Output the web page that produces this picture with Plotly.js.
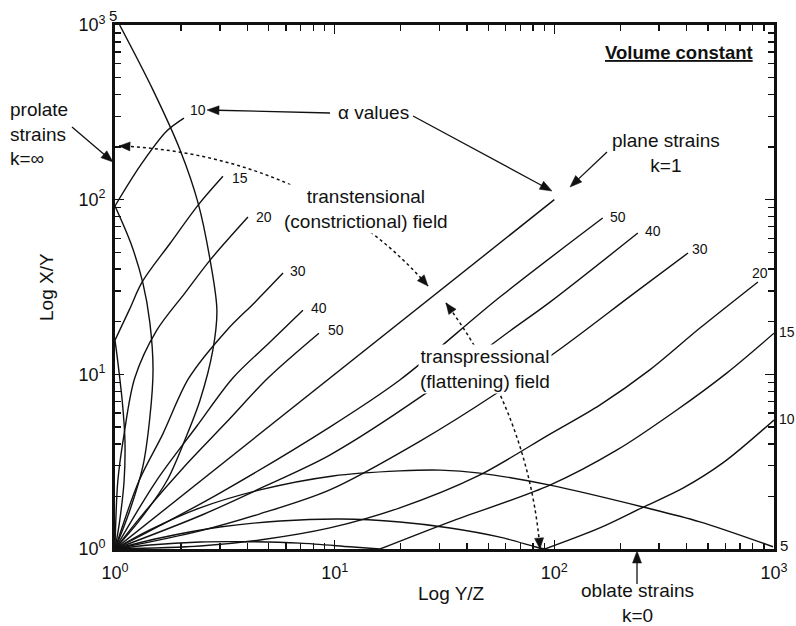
<!DOCTYPE html>
<html><head><meta charset="utf-8">
<script src="https://cdn.plot.ly/plotly-3.0.1.min.js"></script>
<style>html,body{margin:0;padding:0;background:#fff}#chart{width:796px;height:626px}</style>
</head><body><div id="chart"></div>
<script>
// ---------- DATA ----------
// Axis ticks
const tickVals = [1, 10, 100, 1000];
const tickText = ['10<sup>0</sup>', '10<sup>1</sup>', '10<sup>2</sup>', '10<sup>3</sup>'];
const minorTickVals = [2, 3, 4, 5, 6, 7, 8, 9, 20, 30, 40, 50, 60, 70, 80, 90,
                       200, 300, 400, 500, 600, 700, 800, 900];

// Plane strain line (k = 1)
const psX = [1, 10, 100];
const psY = [1, 10, 100];

// Transpression paths (flattening field), alpha values
const p50X = [1, 1.6, 3.0, 9.5, 19.8, 56.5, 166];
const p50Y = [1, 1.36, 2.09, 4.99, 9.28, 27.7, 78.5];
const p40X = [1, 2.44, 5.08, 9.5, 24.5, 62.8, 95.5, 240];
const p40Y = [1, 1.55, 2.36, 3.45, 7.4, 17.7, 25.9, 64.4];
const p30X = [1, 2.44, 4.57, 9.5, 24.5, 54.8, 109, 228, 406];
const p30Y = [1, 1.27, 1.59, 2.18, 4.15, 7.82, 14.3, 28.8, 49.5];
const p20X = [1, 2.44, 4.57, 9.5, 19.8, 44.9, 95.5, 161, 272, 460, 845];
const p20Y = [1, 1.04, 1.126, 1.32, 1.72, 2.62, 4.55, 6.67, 10.6, 18.4, 33.8];
const p15HumpX = [1, 1.44, 2.44, 4.12, 6.95, 11.7, 16.1];
const p15HumpY = [1, 1.054, 1.097, 1.10, 1.08, 1.03, 1];
const p15RiseX = [16.1, 33.5, 95.5, 193, 361, 611, 1000];
const p15RiseY = [1, 1.43, 2.32, 3.69, 6.25, 10.2, 17.2];
const p10HumpX = [1, 1.6, 3.0, 5.64, 10.6, 19.8, 33.5, 56.5, 84, 90.6];
const p10HumpY = [1, 1.156, 1.336, 1.446, 1.485, 1.428, 1.32, 1.17, 1.02, 1];
const p10RiseX = [90.6, 161, 250, 385, 585, 1000];
const p10RiseY = [1, 1.32, 1.72, 2.23, 3.11, 5.48];
const p5X = [1, 1.44, 2.44, 4.57, 9.83, 19.8, 30.2, 45.8, 95.5, 253, 460, 990];
const p5Y = [1, 1.285, 1.72, 2.18, 2.62, 2.80, 2.83, 2.72, 2.32, 1.74, 1.43, 1.03];

// Transtension paths (constrictional field), alpha values
const t5X = [1, 1.285, 1.72, 2.08, 2.44, 2.79, 2.91, 2.71, 2.39, 1.98, 1.49, 1.05];
const t5Y = [1, 1.445, 2.45, 4.21, 7.13, 13.8, 23.3, 45.1, 95.6, 192, 424, 1000];
const t10HumpX = [1, 1.156, 1.34, 1.44, 1.49, 1.44, 1.34, 1.18, 1.0];
const t10HumpY = [1, 1.60, 2.98, 5.62, 10.6, 19.9, 33.3, 56.4, 92];
const t10RiseX = [1.0, 1.31, 1.72, 2.06];
const t10RiseY = [92, 158, 247, 293];
const t15HumpX = [1, 1.05, 1.10, 1.11, 1.08, 1.03, 1.0];
const t15HumpY = [1, 1.445, 2.45, 4.15, 6.94, 11.8, 15.7];
const t15RiseX = [1.0, 1.16, 1.33, 1.78, 2.39, 3.10];
const t15RiseY = [15.7, 23.3, 33.8, 56.1, 93.1, 136];
const t20X = [1, 1.03, 1.10, 1.23, 1.55, 2.08, 2.71, 4.03];
const t20Y = [1, 2.45, 4.55, 9.53, 17.9, 29.2, 45.1, 79.5];
const t30X = [1, 1.285, 1.65, 2.17, 3.23, 4.34, 5.82];
const t30Y = [1, 2.45, 4.55, 9.53, 17.9, 25.9, 38.0];
const t40X = [1, 1.54, 2.36, 3.44, 5.08, 7.17];
const t40Y = [1, 2.45, 5.06, 9.53, 15.3, 23.3];
const t50X = [1, 1.355, 2.08, 3.23, 4.97, 8.48];
const t50Y = [1, 1.61, 2.99, 5.35, 9.53, 17.2];

// ---------- LAYOUT HELPERS ----------
const W = 796, H = 626, ML = 115, MR = 22, MT = 25, MB = 77;
const PW = W - ML - MR, PH = H - MT - MB;
const FONT = 'Liberation Sans, Arial, Helvetica, sans-serif';
const BLACK = '#111';
const px = v => (v - ML) / PW;
const py = v => (H - MB - v) / PH;

function curve(x, y, smooth) {
  return {x: x, y: y, mode: 'lines', hoverinfo: 'skip', showlegend: false,
    line: smooth ? {color: BLACK, width: 1.4, shape: 'spline', smoothing: 0.9}
                 : {color: BLACK, width: 1.4}};
}
const traces = [
  curve(psX, psY, false),
  curve(p50X, p50Y, true), curve(p40X, p40Y, true), curve(p30X, p30Y, true),
  curve(p20X, p20Y, true), curve(p15HumpX, p15HumpY, true), curve(p15RiseX, p15RiseY, true),
  curve(p10HumpX, p10HumpY, true), curve(p10RiseX, p10RiseY, true), curve(p5X, p5Y, true),
  curve(t5X, t5Y, true), curve(t10HumpX, t10HumpY, true), curve(t10RiseX, t10RiseY, true),
  curve(t15HumpX, t15HumpY, true), curve(t15RiseX, t15RiseY, true),
  curve(t20X, t20Y, true), curve(t30X, t30Y, true), curve(t40X, t40Y, true), curve(t50X, t50Y, true),
  // invisible carrier so the minor-tick overlay axes are drawn
  {x: [tickVals[0]], y: [tickVals[0]], xaxis: 'x2', yaxis: 'y2', mode: 'markers',
   marker: {opacity: 0, size: 1}, hoverinfo: 'skip', showlegend: false}
];

// shapes: arrows drawn in pixel space converted to paper
const shapes = [];
function head(tx, ty, fx, fy, len, hw) {
  const dx = tx - fx, dy = ty - fy, d = Math.hypot(dx, dy);
  const ux = dx / d, uy = dy / d;
  const bx = tx - ux * len, by = ty - uy * len;
  const p1 = [bx - uy * hw, by + ux * hw], p2 = [bx + uy * hw, by - ux * hw];
  shapes.push({type: 'path', xref: 'paper', yref: 'paper', layer: 'above',
    path: `M${px(tx)},${py(ty)} L${px(p1[0])},${py(p1[1])} L${px(p2[0])},${py(p2[1])} Z`,
    fillcolor: BLACK, line: {color: BLACK, width: 0.5}});
  return [bx + ux * 2, by + uy * 2];
}
function arrow(fx, fy, tx, ty) {
  const b = head(tx, ty, fx, fy, 12, 4.5);
  shapes.push({type: 'line', xref: 'paper', yref: 'paper', layer: 'above',
    x0: px(fx), y0: py(fy), x1: px(b[0]), y1: py(b[1]), line: {color: BLACK, width: 1.3}});
}
function dotted(p0, c1, c2, p3) {
  shapes.push({type: 'path', xref: 'paper', yref: 'paper', layer: 'above',
    path: `M${px(p0[0])},${py(p0[1])} C${px(c1[0])},${py(c1[1])} ${px(c2[0])},${py(c2[1])} ${px(p3[0])},${py(p3[1])}`,
    line: {color: BLACK, width: 1.5, dash: 'dot'}});
  head(p0[0], p0[1], c1[0], c1[1], 11, 4.5);
  head(p3[0], p3[1], c2[0], c2[1], 11, 4.5);
}
arrow(330, 113, 207, 110);   // alpha values -> 10
arrow(413, 116, 552, 191);   // alpha values -> right
arrow(607, 152, 570, 187);   // plane strains
arrow(72, 127, 113, 162);    // prolate strains
arrow(637, 584, 637, 551);   // oblate strains
dotted([119, 146], [220, 150], [340, 185], [428, 286]);
dotted([446, 303], [480, 350], [530, 430], [540, 549]);

// text annotations
const ann = [];
function txt(text, x, y, opts) {
  ann.push(Object.assign({text: text, xref: 'paper', yref: 'paper', x: px(x), y: py(y),
    xanchor: 'center', yanchor: 'middle', showarrow: false,
    font: {family: FONT, size: 19, color: BLACK}}, opts || {}));
}
txt('Log X/Y', 46, 287, {textangle: -90});
txt('Log Y/Z', 451, 593);
txt('<b><u>Volume constant</u></b>', 679, 52, {font: {family: FONT, size: 18.5, color: BLACK}});
txt('α values', 373, 113);
txt('plane strains<br>k=1', 666, 153);
txt('prolate<br>strains<br>k=∞', 8, 134, {xanchor: 'left', align: 'left'});
txt('transtensional<br>(constrictional) field', 366, 209, {bgcolor: 'white'});
txt('transpressional<br>(flattening) field', 485, 369, {bgcolor: 'white'});
txt('oblate strains<br>k=0', 637, 603);

// alpha labels at curve ends
function lab(text, xs, ys, xa, xshift, yshift, size) {
  ann.push({text: text, xref: 'x', yref: 'y',
    x: Math.log10(xs[xs.length - 1]), y: Math.log10(ys[ys.length - 1]),
    xanchor: xa, yanchor: 'middle', xshift: xshift, yshift: yshift, showarrow: false,
    font: {family: FONT, size: size || 14, color: BLACK}});
}
lab('50', p50X, p50Y, 'left', 5, 1);
lab('40', p40X, p40Y, 'left', 5, 2);
lab('30', p30X, p30Y, 'left', 2, 4);
lab('20', p20X, p20Y, 'center', 2, 9);
lab('15', p15RiseX, p15RiseY, 'left', 3, 1);
lab('10', p10RiseX, p10RiseY, 'left', 3, 1);
lab('5', p5X, p5Y, 'left', 5, 1, 15);
lab('10', t10RiseX, t10RiseY, 'left', 4, 8);
lab('15', t15RiseX, t15RiseY, 'left', 7, -2);
lab('20', t20X, t20Y, 'left', 6, 0);
lab('30', t30X, t30Y, 'left', 5, 2);
lab('40', t40X, t40Y, 'left', 6, 2);
lab('50', t50X, t50Y, 'left', 7, 3);
lab('5', t5X, t5Y, 'center', -7, 10, 15);

function axis() {
  return {type: 'log', range: [0, 3], showgrid: false, zeroline: false,
    showline: true, linewidth: 2.8, linecolor: BLACK, mirror: 'allticks',
    ticks: 'inside', ticklen: 9, tickwidth: 1.6, tickcolor: BLACK,
    tickmode: 'array', tickvals: tickVals, ticktext: tickText,
    tickfont: {family: FONT, size: 18, color: BLACK}, fixedrange: true};
}
function minorAxis(over) {
  return {type: 'log', range: [0, 3], overlaying: over, showgrid: false, zeroline: false,
    showline: false, mirror: 'ticks', ticks: 'inside', ticklen: 6, tickwidth: 1.4,
    tickcolor: BLACK, tickmode: 'array', tickvals: minorTickVals,
    showticklabels: false, fixedrange: true};
}
const xa = axis(); xa.ticklabelstandoff = 6;
const ya = axis(); ya.ticklabelstandoff = 3;
const xa2 = minorAxis('x'); xa2.anchor = 'y2'; xa2.side = 'bottom';
const ya2 = minorAxis('y'); ya2.anchor = 'x2'; ya2.side = 'left';

const layout = {
  width: W, height: H, margin: {l: ML, r: MR, t: MT, b: MB},
  paper_bgcolor: 'white', plot_bgcolor: 'white',
  xaxis: xa, yaxis: ya, xaxis2: xa2, yaxis2: ya2,
  shapes: shapes, annotations: ann, showlegend: false,
  font: {family: FONT, color: BLACK}
};
Plotly.newPlot('chart', traces, layout, {staticPlot: true, displayModeBar: false});
</script>
</body></html>
